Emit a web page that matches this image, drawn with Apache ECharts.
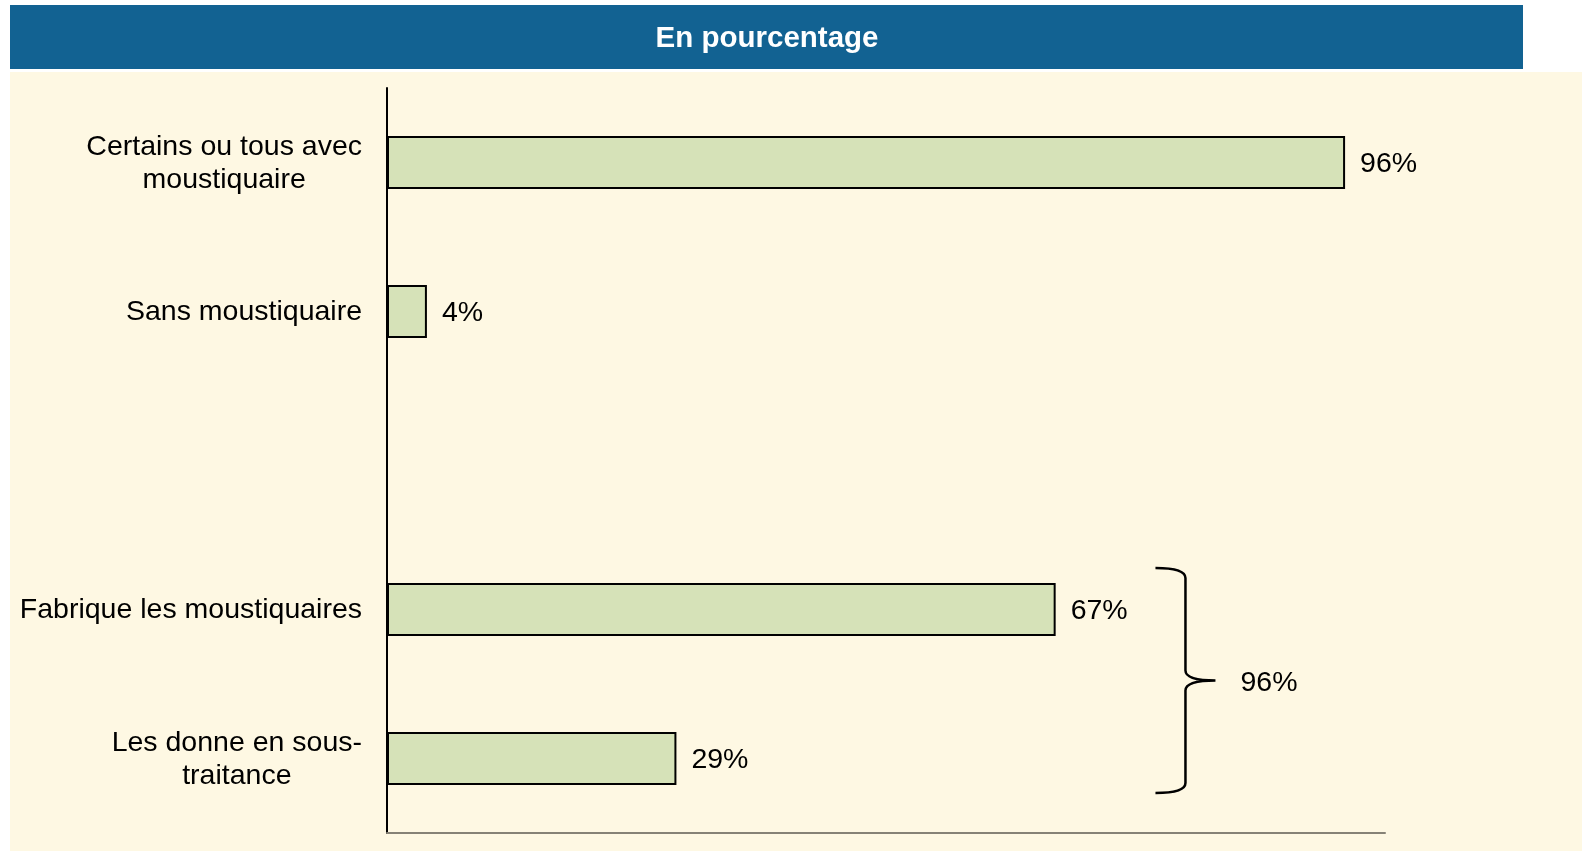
<!DOCTYPE html>
<html>
<head>
<meta charset="utf-8">
<script src="https://cdn.jsdelivr.net/npm/echarts@6/dist/echarts.min.js"></script>
<style>
html,body{margin:0;padding:0;background:#ffffff;}
#chart{width:1585px;height:851px;}
</style>
</head>
<body>
<div id="chart"></div>
<script>
// ---- data ----
const titleText = 'En pourcentage';
const categories = [
  'Certains ou tous avec\nmoustiquaire',
  'Sans moustiquaire',
  '',
  'Fabrique les moustiquaires',
  'Les donne en sous-\ntraitance'
];
const values = [96, 4, '-', 67, 29];
const groupCategories = [3, 4];   // indexes grouped by the brace
const groupTotal = 96;            // total shown next to the brace

// ---- styles ----
const FONT = 'Liberation Sans, Arial, sans-serif';
const FS = 28.5;
const BRACE_X_VALUE = 77;

const chart = echarts.init(document.getElementById('chart'), null, {renderer: 'canvas'});

function wrapRich(v) {
  return v.split('\n').map(l => '{c|' + l + '}').join('\n');
}

const option = {
  animation: false,
  backgroundColor: '#ffffff',
  graphic: [
    {type: 'rect', z: -10, silent: true, shape: {x: 10, y: 72, width: 1572, height: 779}, style: {fill: '#fef8e3'}},
    {type: 'rect', z: -10, silent: true, shape: {x: 10, y: 5, width: 1513, height: 64}, style: {fill: '#126292'}},
    {type: 'text', z: 10, silent: true, x: 767, y: 39,
     style: {text: titleText, fill: '#ffffff', font: 'bold 29.5px ' + FONT, align: 'center', verticalAlign: 'middle'}}
  ],
  grid: {left: 387, right: 200, top: 88, bottom: 18, containLabel: false},
  xAxis: {
    type: 'value', min: 0, max: 100,
    axisLine: {show: true, lineStyle: {color: '#868276', width: 2}},
    axisTick: {show: false}, axisLabel: {show: false}, splitLine: {show: false}
  },
  yAxis: {
    type: 'category', inverse: true, data: categories,
    axisLine: {show: true, lineStyle: {color: '#000000', width: 2}},
    axisTick: {show: false}, splitLine: {show: false},
    axisLabel: {
      margin: 25,
      formatter: wrapRich,
      rich: {c: {align: 'center', fontSize: FS, lineHeight: 33, color: '#000000', fontFamily: FONT, padding: [2, 0, 0, 0]}}
    }
  },
  series: [
    {
      type: 'bar', data: values, barWidth: 53,
      itemStyle: {color: '#d6e2b8', borderColor: '#000000', borderWidth: 2},
      label: {show: true, position: 'right', distance: 15, formatter: '{c}%', offset: [0, 2],
              fontSize: FS, color: '#000000', fontFamily: FONT}
    },
    {
      type: 'custom',
      data: [[groupCategories[0], groupCategories[1], groupTotal]],
      encode: {y: [0, 1]},
      renderItem: function (params, api) {
        const half = 53 / 2;
        const pTop = api.coord([BRACE_X_VALUE, api.value(0)]);
        const pBot = api.coord([BRACE_X_VALUE, api.value(1)]);
        const yT = pTop[1] - half - 15;
        const yB = pBot[1] + half + 8;
        const yM = (yT + yB) / 2;
        const x0 = pTop[0];
        const x1 = x0 + 30;
        const x2 = x1 + 30;
        const r = 10;
        const d = 'M' + x0 + ' ' + yT +
          ' Q' + x1 + ' ' + yT + ' ' + x1 + ' ' + (yT + r) +
          ' L' + x1 + ' ' + (yM - r) +
          ' Q' + x1 + ' ' + yM + ' ' + x2 + ' ' + yM +
          ' Q' + x1 + ' ' + yM + ' ' + x1 + ' ' + (yM + r) +
          ' L' + x1 + ' ' + (yB - r) +
          ' Q' + x1 + ' ' + yB + ' ' + x0 + ' ' + yB;
        return {
          type: 'group',
          children: [
            {type: 'path', shape: {pathData: d},
             style: {stroke: '#000000', lineWidth: 2.5, fill: null}},
            {type: 'text', x: x2 + 25, y: yM + 3,
             style: {text: api.value(2) + '%', fill: '#000000', font: FS + 'px ' + FONT,
                     align: 'left', verticalAlign: 'middle'}}
          ]
        };
      }
    }
  ]
};
chart.setOption(option);
</script>
</body>
</html>
